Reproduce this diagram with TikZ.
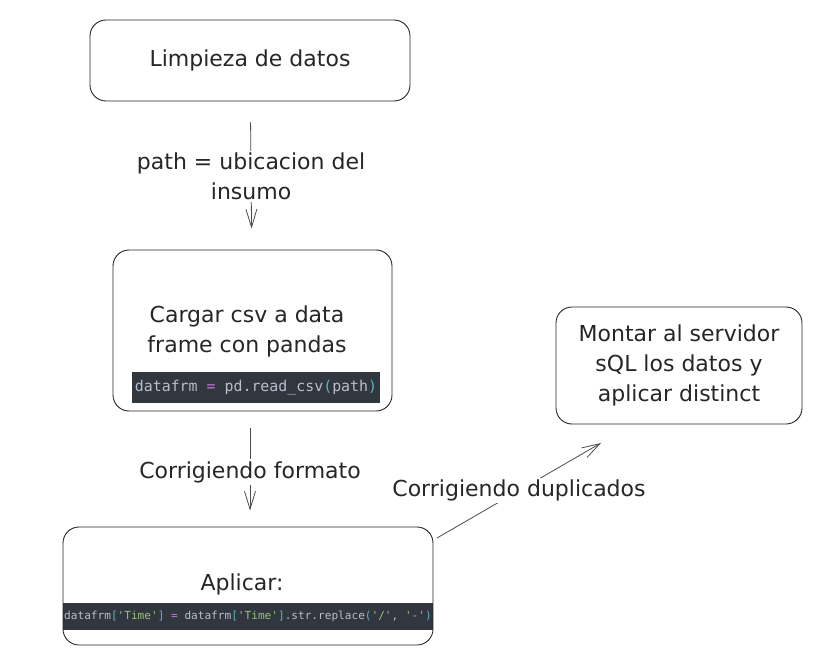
\documentclass[tikz,border=0pt]{standalone}
\usepackage{fontspec}
\setmainfont{DejaVu Sans}
\setmonofont{DejaVu Sans Mono}
\usetikzlibrary{arrows.meta}

\definecolor{codebg}{HTML}{31363F}
\definecolor{codefg}{HTML}{B8BFCA}
\definecolor{codeop}{HTML}{C678DD}
\definecolor{codepar}{HTML}{56B6C2}
\definecolor{codestr}{HTML}{98C379}

\begin{document}
\begin{tikzpicture}[x=1pt,y=-1pt,
        box/.style={draw=black!85, line width=0.9pt, rounded corners=16pt},
        txt/.style={align=center, font=\fontsize{22}{30}\selectfont, text=black!85},
        lbl/.style={txt, fill=white, inner sep=2pt},
        codebar/.style={fill=codebg, inner sep=0pt, text=codefg},
        flow/.style={draw=black!70, line width=0.8pt, -{Straight Barb[length=18pt,width=11pt]}}]
        \useasboundingbox (0,0) rectangle (822,666);
        % Draw the boxes
        \node[box, minimum width=320pt, minimum height=81pt, txt] (limpieza) at (250,60.5) {Limpieza de datos};
        \node[box, minimum width=279pt, minimum height=161pt] (cargar) at (252.5,330.5) {};
        \node[txt] (cargartxt) at (247,331) {Cargar csv a data\\frame con pandas};
        \node[codebar, minimum width=248pt, minimum height=31pt, font=\fontsize{14.9}{16}\ttfamily] (cargarcode) at (256,387.5)
            {datafrm \textcolor{codeop}{=} pd.read\_csv\textcolor{codepar}{(}path\textcolor{codepar}{)}};
        \node[codebar, minimum width=370pt, minimum height=27pt, font=\fontsize{11.1}{13}\ttfamily] (aplicarcode) at (248,616.5)
            {datafrm\textcolor{codepar}{[}\textcolor{codestr}{'Time'}\textcolor{codepar}{]} \textcolor{codeop}{=} datafrm\textcolor{codepar}{[}\textcolor{codestr}{'Time'}\textcolor{codepar}{]}.str.replace\textcolor{codepar}{(}\textcolor{codestr}{'/'}, \textcolor{codestr}{'-'}\textcolor{codepar}{)}};
        \node[box, minimum width=370pt, minimum height=118pt] (aplicar) at (248,586) {};
        \node[txt] (aplicartxt) at (242,584) {Aplicar:};
        \node[box, minimum width=246pt, minimum height=117pt, txt] (montar) at (679,365.5)
            {Montar al servidor\\sQL los datos y\\aplicar distinct};
        % Draw the connectors
        \draw[flow, shorten <=21pt, shorten >=21pt] (limpieza) -- (cargar)
            node[lbl, midway, yshift=-1pt] {path = ubicacion del\\insumo};
        \draw[flow, shorten <=17pt, shorten >=16pt] (cargar.south -| 250,0) -- (aplicar.north -| 250,0)
            node[lbl, midway, yshift=-3pt] {Corrigiendo formato};
        \coordinate (dupfrom) at (437,538);
        \coordinate (dupto) at (601,443);
        \draw[flow] (dupfrom) -- (dupto) node[lbl, midway] {Corrigiendo duplicados};
\end{tikzpicture}
\end{document}
